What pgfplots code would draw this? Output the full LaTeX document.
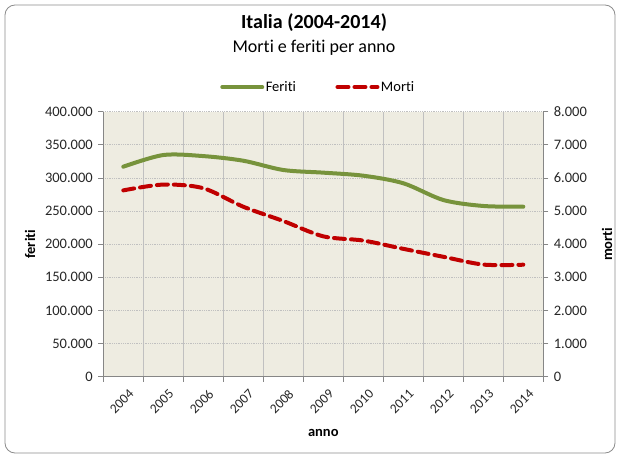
\documentclass[border=0pt]{standalone}
\usepackage{fontspec}
\setmainfont{Carlito}[Ligatures=NoCommon]
\usepackage{pgfplots}
\pgfplotsset{compat=1.18}
\definecolor{bgc}{HTML}{EEECE1}
\definecolor{ferc}{HTML}{77933C}
\definecolor{morc}{HTML}{C00000}
\definecolor{axgray}{HTML}{868686}
\definecolor{gridc}{HTML}{C0C0C0}
\definecolor{framec}{HTML}{8C8C8C}
\newcommand{\tickfont}{\fontsize{14.5}{17}\selectfont}
\begin{document}
\begin{tikzpicture}
\useasboundingbox (-103.3pt,-78.3pt) rectangle (515.7pt,376.7pt);
\draw[framec, line width=0.8pt, rounded corners=10pt] (-98.3pt,-76.3pt) rectangle (511.7pt,371.7pt);
\begin{axis}[
  at={(0pt,0pt)}, anchor=south west,
  scale only axis, width=440pt, height=265pt,
  xmin=-0.5, xmax=10.5, ymin=0, ymax=400000,
  axis y line*=left, axis x line*=bottom,
  axis line style={draw=axgray, line width=0.8pt},
  axis background/.style={fill=bgc},
  xtick={0,...,10},
  xticklabels={2004,2005,2006,2007,2008,2009,2010,2011,2012,2013,2014},
  minor xtick={-0.5,0.5,...,10.5},
  major x tick style={draw=none},
  minor x tick style={draw=axgray, line width=0.8pt},
  xminorgrids=true,
  minor x grid style={draw=gridc, line width=0.6pt},
  ytick={0,50000,...,400000},
  ymajorgrids=true,
  major y grid style={draw=gridc, line width=0.8pt, densely dotted},
  y tick style={draw=axgray, line width=0.8pt},
  tick align=outside, major tick length=5pt, minor tick length=5pt,
  scaled y ticks=false,
  /pgf/number format/assume math mode=true,
  yticklabel style={/pgf/number format/fixed, /pgf/number format/precision=0, /pgf/number format/1000 sep={.}, font=\tickfont, text=black!85, xshift=-2pt},
  xticklabel style={font=\fontsize{13.5}{15}\selectfont, text=black!85, rotate=45, anchor=east, inner sep=0.5pt, yshift=-13pt, xshift=-1pt},
  xlabel={\textbf{anno}},
  xlabel style={at={(axis description cs:0.5,-0.2125)}, anchor=center, font=\fontsize{14.5}{17}\selectfont},
  ylabel={\textbf{feriti}},
  ylabel style={at={(axis description cs:-0.1666,0.5)}, anchor=center, font=\fontsize{14.5}{17}\selectfont},
  legend style={at={(axis description cs:0.488,1.093)}, anchor=center, draw=none, fill=none,
    font=\fontsize{14.5}{17}\selectfont, legend columns=-1,
    nodes={inner sep=1.5pt},
    /tikz/every even column/.append style={column sep=38pt}},
  legend image code/.code={\draw[#1] (0pt,0pt) -- (40pt,0pt);},
]
\addplot[ferc, line width=4pt, smooth, line cap=round] coordinates {
(0,317000) (1,334600) (2,333000) (3,326000) (4,312000) (5,308000)
(6,303400) (7,292000) (8,266700) (9,257700) (10,256600)};
\addlegendentry{Feriti}
\addlegendimage{morc, line width=4pt, dash pattern=on 11pt off 6pt, line cap=round}
\addlegendentry{Morti}
\end{axis}
\begin{axis}[
  at={(0pt,0pt)}, anchor=south west,
  scale only axis, width=440pt, height=265pt,
  xmin=-0.5, xmax=10.5, ymin=0, ymax=8000,
  axis y line*=right, axis x line=none,
  axis line style={draw=axgray, line width=0.8pt},
  ytick={0,1000,...,8000},
  y tick style={draw=axgray, line width=0.8pt},
  tick align=outside, major tick length=5pt,
  scaled y ticks=false,
  /pgf/number format/assume math mode=true,
  yticklabel style={/pgf/number format/fixed, /pgf/number format/precision=0, /pgf/number format/1000 sep={.}, font=\tickfont, text=black!85, xshift=2pt},
  ylabel={\textbf{morti}},
  ylabel style={at={(axis description cs:1.1448,0.5)}, anchor=center, font=\fontsize{14.5}{17}\selectfont},
]
\addplot[morc, line width=4pt, smooth, dash pattern=on 11pt off 6pt, line cap=round] coordinates {
(0,5625) (1,5800) (2,5690) (3,5131) (4,4700) (5,4237)
(6,4110) (7,3860) (8,3620) (9,3385) (10,3381)};
\end{axis}
\node[font=\bfseries\fontsize{20}{24}\selectfont] at (210.7pt,353.7pt) {Italia (2004-2014)};
\node[font=\fontsize{18}{22}\selectfont] at (210.7pt,328.7pt) {Morti e feriti per anno};
\end{tikzpicture}
\end{document}
